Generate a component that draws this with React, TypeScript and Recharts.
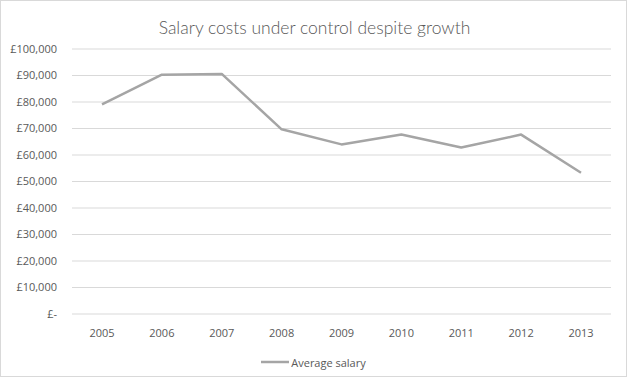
import React from 'react';
import { LineChart, Line, XAxis, YAxis, CartesianGrid, Legend } from 'recharts';

const years = ['2005', '2006', '2007', '2008', '2009', '2010', '2011', '2012', '2013'];
const averageSalary = [79100, 90300, 90600, 69700, 64000, 67700, 62800, 67700, 53300];
const yTicks = [0, 10000, 20000, 30000, 40000, 50000, 60000, 70000, 80000, 90000, 100000];
const title = 'Salary costs under control despite growth';
const seriesName = 'Average salary';

const data = years.map((y, i) => ({ year: y, value: averageSalary[i] }));

const fmt = (v: number) => (v === 0 ? '£-' : '£' + v.toLocaleString('en-GB'));

const FONT = '"Open Sans", "Liberation Sans", sans-serif';
const TEXT = '#595959';
const LINE = '#a5a5a5';

const LegendContent = () => (
  <div style={{ display: 'flex', justifyContent: 'center', alignItems: 'center', height: 20, fontFamily: FONT, fontSize: 11, color: TEXT }}>
    <svg width={28} height={6} style={{ marginRight: 2 }}>
      <line x1={0} y1={3} x2={28} y2={3} stroke={LINE} strokeWidth={2.5} />
    </svg>
    <span>{seriesName}</span>
  </div>
);

export default function App() {
  return (
    <div style={{ position: 'absolute', left: 0, top: 0, width: 627, height: 377, background: '#fff', boxSizing: 'border-box', border: '1px solid #d9d9d9' }}>
      <div style={{ position: 'absolute', left: 0, top: 14, width: 627, textAlign: 'center', fontFamily: 'Lato, sans-serif', fontWeight: 300, fontSize: 17.5, color: TEXT, lineHeight: '26px' }}>
        {title}
      </div>
      <div style={{ position: 'absolute', left: -1, top: -1 }}>
        <LineChart width={627} height={377} data={data} margin={{ top: 49, right: 16, left: 0, bottom: 13 }}>
          <CartesianGrid vertical={false} stroke="#d9d9d9" strokeWidth={1} />
          <XAxis
            dataKey="year"
            axisLine={false}
            tickLine={false}
            tickSize={6}
            tickMargin={9}
            height={30}
            padding={{ left: 30, right: 30 }}
            tick={{ fill: TEXT, fontSize: 11, fontFamily: FONT }}
            interval={0}
          />
          <YAxis
            domain={[0, 100000]}
            ticks={yTicks}
            tickFormatter={fmt}
            axisLine={false}
            tickLine={false}
            tickSize={6}
            tickMargin={9}
            width={72}
            tick={{ fill: TEXT, fontSize: 11, fontFamily: FONT }}
            interval={0}
          />
          <Legend content={<LegendContent />} wrapperStyle={{ top: 352, left: 0, width: 627, height: 20 }} />
          <Line
            type="linear"
            dataKey="value"
            name={seriesName}
            stroke={LINE}
            strokeWidth={2.5}
            strokeLinejoin="round"
            dot={false}
            activeDot={false}
            isAnimationActive={false}
          />
        </LineChart>
      </div>
    </div>
  );
}
